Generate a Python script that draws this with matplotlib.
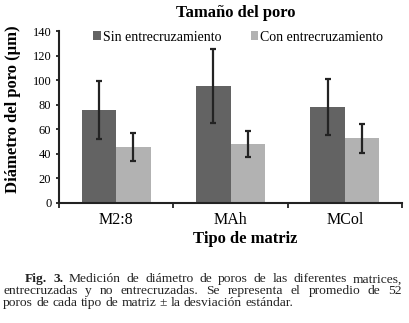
import matplotlib
matplotlib.use("Agg")
import matplotlib.pyplot as plt
from matplotlib.patches import Patch
import numpy as np

plt.rcParams['font.family'] = ['Liberation Serif', 'DejaVu Serif']

categories = ["M2:8", "MAh", "MCol"]
series_names = ["Sin entrecruzamiento", "Con entrecruzamiento"]
sin_values = [75.6, 95.1, 77.8]
sin_errors = [24.0, 30.2, 23.0]
con_values = [45.4, 47.9, 52.5]
con_errors = [11.7, 10.8, 11.8]
yticks = [0, 20, 40, 60, 80, 100, 120, 140]

title = "Tamaño del poro"
xlabel = "Tipo de matriz"
ylabel = "Diámetro del poro (µm)"
caption_lines = [
    ["**Fig.", "**3.", "Medición", "de", "diámetro", "de", "poros", "de", "las", "diferentes", "matrices,"],
    ["entrecruzadas", "y", "no", "entrecruzadas.", "Se", "representa", "el", "promedio", "de", "52"],
    ["poros", "de", "cada", "tipo", "de", "matriz", "±", "la", "desviación", "estándar."],
]

W, H = 409, 323
fig = plt.figure(figsize=(W / 100, H / 100), dpi=100)
ax = fig.add_axes([59 / W, 1 - 202.7 / H, 343 / W, 171.7 / H])

dark = "#636363"
light = "#b2b2b2"
ecol = "#232323"
x = np.arange(len(categories))
bw = 0.303
ax.bar(x - bw / 2, sin_values, bw, color=dark, yerr=sin_errors,
       error_kw=dict(ecolor=ecol, elinewidth=1.6, capsize=2.3, capthick=1.6), zorder=2)
ax.bar(x + bw / 2, con_values, bw, color=light, yerr=con_errors,
       error_kw=dict(ecolor=ecol, elinewidth=1.6, capsize=2.3, capthick=1.6), zorder=2)

ax.set_xlim(-0.5, len(categories) - 0.5)
ax.set_ylim(0, 140)
ax.set_yticks(yticks)
ax.set_yticklabels([str(v) for v in yticks], fontsize=9)
ax.set_xticks(np.arange(-0.5, len(categories), 1.0))
ax.set_xticklabels([])
ax.set_xticks(x, minor=True)
ax.set_xticklabels(categories, minor=True, fontsize=11.5)
ax.tick_params(axis='x', which='major', direction='out', length=3.5, width=1.3, color="#222222")
ax.tick_params(axis='x', which='minor', length=0, pad=6.5)
ax.tick_params(axis='y', direction='out', length=2.5, width=1.3, color="#222222", pad=3)
for s in ['top', 'right']:
    ax.spines[s].set_visible(False)
for s in ['left', 'bottom']:
    ax.spines[s].set_linewidth(1.5)
    ax.spines[s].set_color("#222222")

handles = [Patch(facecolor=dark, edgecolor='none'), Patch(facecolor=light, edgecolor='none')]
ax.legend(handles, series_names, loc='center', bbox_to_anchor=(0.523, 0.965), ncol=2,
          frameon=False, fontsize=10, handlelength=0.55, handleheight=0.55,
          handletextpad=0.15, columnspacing=2.1, borderpad=0, borderaxespad=0)

fig.text(236 / W, 1 - 17 / H, title, ha='center', va='baseline', fontsize=12, fontweight='bold')
fig.text(244.7 / W, 1 - 243 / H, xlabel, ha='center', va='baseline', fontsize=12, fontweight='bold')
fig.text(13 / W, 1 - 109 / H, ylabel, ha='center', va='center', rotation=90, fontsize=12, fontweight='bold')

# caption, justified
renderer = fig.canvas.get_renderer()
cap_fs = 9.7
baselines = [282.3, 294.2, 305.8]
starts = [25, 3, 3]
right_edge = 402
for li, (words, base, start) in enumerate(zip(caption_lines, baselines, starts)):
    texts = []
    for w in words:
        bold = w.startswith("**")
        s = w[2:] if bold else w
        t = fig.text(0, 1 - base / H, s, ha='left', va='baseline', fontsize=cap_fs,
                     fontweight='bold' if bold else 'normal', color="#222222")
        texts.append(t)
    widths = [t.get_window_extent(renderer).width for t in texts]
    if li < len(caption_lines) - 1:
        gap = (right_edge - start - sum(widths)) / (len(words) - 1)
    else:
        gap = 0.25 * cap_fs * 100 / 72
    xpos = start
    for t, wdt in zip(texts, widths):
        t.set_x(xpos / W)
        xpos += wdt + gap

fig.savefig("out.png", dpi=100)
